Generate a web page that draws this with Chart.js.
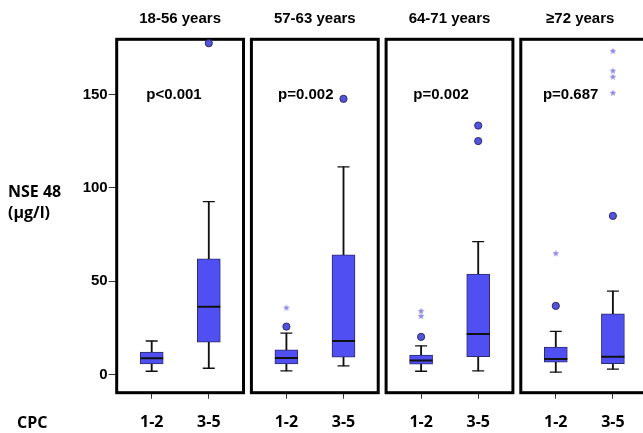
<!DOCTYPE html>
<html>
<head>
<meta charset="utf-8">
<script src="https://cdn.jsdelivr.net/npm/chart.js@4.4.0/dist/chart.umd.min.js"></script>
<style>
html,body{margin:0;padding:0;background:#fff;}
canvas{display:block;}
</style>
</head>
<body>
<canvas id="c" width="643" height="433"></canvas>
<script>
// ---------- data ----------
const panels = ['18-56 years', '57-63 years', '64-71 years', '\u226572 years'];
const groups = ['1-2', '3-5'];
const pValues = ['p<0.001', 'p=0.002', 'p=0.002', 'p=0.687'];
// one entry per box: panel1 (1-2, 3-5), panel2 (1-2, 3-5), ...
const whiskerLow  = [1.7, 3.3,   1.9, 4.6,   1.7, 1.9,   1.2, 2.8];
const q1          = [5.6, 17.2,  5.6, 9.2,   5.5, 9.5,   6.5, 5.8];
const median      = [8.7, 36.3,  8.8, 17.9,  7.4, 21.7,  8.3, 9.5];
const q3          = [11.9, 61.9, 13.1, 64.0, 10.3, 53.7, 14.7, 32.4];
const whiskerHigh = [17.9, 92.6, 22.1, 111.2, 15.3, 71.1, 23.1, 44.6];
const outliers = [[], [177.4], [25.6], [147.6], [20.1], [133.3, 125.0], [36.7], [84.9]];
const extremes = [[], [], [35.8], [], [34.0, 31.3], [], [64.9], [173.3, 162.7, 159.5, 150.9]];
const yTicks = [0, 50, 100, 150];

// ---------- layout constants ----------
const PITCH = 2.359;          // distance between panels in x units
const PANEL_L = -0.613, PANEL_R = 1.608;
const Y_MIN = -9.8, Y_MAX = 179.5;
const pOffset = [0.39, 0.34, 0.35, 0.26];
const titleNudge = [0, 0, 0, -4];

const xOf = i => Math.floor(i / 2) * PITCH + (i % 2);
const xs = median.map((_, i) => xOf(i));

// star point style
const star = document.createElement('canvas');
star.width = 8; star.height = 8;
(function () {
  const g = star.getContext('2d');
  g.fillStyle = '#8c8ce8';
  g.beginPath();
  for (let k = 0; k < 10; k++) {
    const r = k % 2 === 0 ? 3.6 : 1.5;
    const a = -Math.PI / 2 + k * Math.PI / 5;
    const px = 4 + r * Math.cos(a), py = 4.3 + r * Math.sin(a);
    if (k === 0) g.moveTo(px, py); else g.lineTo(px, py);
  }
  g.closePath();
  g.fill();
})();

const framePlugin = {
  id: 'frames',
  beforeDatasetsDraw(chart) {
    const { ctx, scales: { x, y } } = chart;
    const top = y.getPixelForValue(Y_MAX), bot = y.getPixelForValue(Y_MIN);
    ctx.save();
    ctx.strokeStyle = '#000';
    ctx.lineWidth = 3;
    panels.forEach((_, p) => {
      const l = x.getPixelForValue(p * PITCH + PANEL_L);
      const r = x.getPixelForValue(p * PITCH + PANEL_R);
      ctx.strokeRect(l, top, r - l, bot - top);
    });
    ctx.restore();
  },
  afterDraw(chart) {
    const { ctx, scales: { x, y } } = chart;
    ctx.save();
    ctx.fillStyle = '#000';
    ctx.textBaseline = 'middle';
    ctx.textAlign = 'center';
    ctx.font = 'bold 15px "Liberation Sans", Arial, sans-serif';
    panels.forEach((t, p) => {
      const l = x.getPixelForValue(p * PITCH + PANEL_L);
      const r = x.getPixelForValue(p * PITCH + PANEL_R);
      ctx.fillText(t, (l + r) / 2 + titleNudge[p], 19);
      ctx.fillText(pValues[p], x.getPixelForValue(p * PITCH + pOffset[p]), y.getPixelForValue(150));
    });
    ctx.textAlign = 'left';
    ctx.font = 'bold 16px "Open Sans", sans-serif';
    ctx.fillText('NSE 48', 8, 192);
    ctx.fillText('(\u00b5g/l)', 8, 213);
    ctx.fillText('CPC', 17, 423);
    ctx.restore();
  }
};

const pts = arr => arr.flatMap((vals, i) => vals.map(v => ({ x: xs[i], y: v })));

new Chart(document.getElementById('c'), {
  type: 'bar',
  data: {
    datasets: [
      { type: 'scatter', data: xs.map((v, i) => ({ x: v, y: median[i] })), pointStyle: 'line', radius: 11.5,
        borderColor: '#111', borderWidth: 2, order: 0 },
      { type: 'scatter', data: xs.map((v, i) => ({ x: v, y: whiskerLow[i] })).concat(xs.map((v, i) => ({ x: v, y: whiskerHigh[i] }))),
        pointStyle: 'line', radius: 6, borderColor: '#111', borderWidth: 1.3, order: 1 },
      { type: 'scatter', data: pts(outliers), pointStyle: 'circle', radius: 3.6,
        backgroundColor: '#5454d8', borderColor: '#2a2a7a', borderWidth: 1, order: 1 },
      { type: 'scatter', data: pts(extremes), pointStyle: star, radius: 4, order: 1 },
      { type: 'bar', data: xs.map((v, i) => ({ x: v, y: [q1[i], q3[i]] })), barThickness: 23, grouped: false,
        backgroundColor: '#5050f2', borderColor: '#2b2b6a', borderWidth: 1, borderSkipped: false, order: 2 },
      { type: 'bar', data: xs.map((v, i) => ({ x: v, y: [whiskerLow[i], whiskerHigh[i]] })), barThickness: 1.2, grouped: false,
        backgroundColor: '#111', borderWidth: 0, order: 3 }
    ]
  },
  options: {
    responsive: false,
    animation: false,
    layout: { autoPadding: false, padding: { top: 39.3, left: 0, right: 0, bottom: 0 } },
    plugins: { legend: { display: false }, tooltip: { enabled: false } },
    scales: {
      x: {
        type: 'linear', offset: false, min: PANEL_L, max: PANEL_L + 526.3 / 57.1,
        afterBuildTicks: s => { s.ticks = xs.map(v => ({ value: v })); },
        afterFit: s => { s.height = 40.3; s.paddingLeft = 0; s.paddingRight = 0; },
        grid: { display: true, offset: false, drawOnChartArea: false, drawTicks: true, tickLength: 6, color: '#333', lineWidth: 1 },
        border: { display: false },
        ticks: { autoSkip: false, maxRotation: 0, padding: 14, color: '#000',
          font: { family: '"Open Sans", sans-serif', size: 16, weight: 'bold' },
          callback: (v, i) => groups[i % 2] }
      },
      y: {
        type: 'linear', min: Y_MIN, max: Y_MAX,
        afterBuildTicks: s => { s.ticks = yTicks.map(v => ({ value: v })); },
        afterFit: s => { s.width = 116.7; },
        grid: { display: true, drawOnChartArea: false, drawTicks: true, tickLength: 8, color: '#333', lineWidth: 1 },
        border: { display: false },
        ticks: { padding: 1, color: '#000', font: { family: '"Liberation Sans", Arial, sans-serif', size: 15, weight: 'bold' } }
      }
    }
  },
  plugins: [framePlugin]
});
</script>
</body>
</html>
